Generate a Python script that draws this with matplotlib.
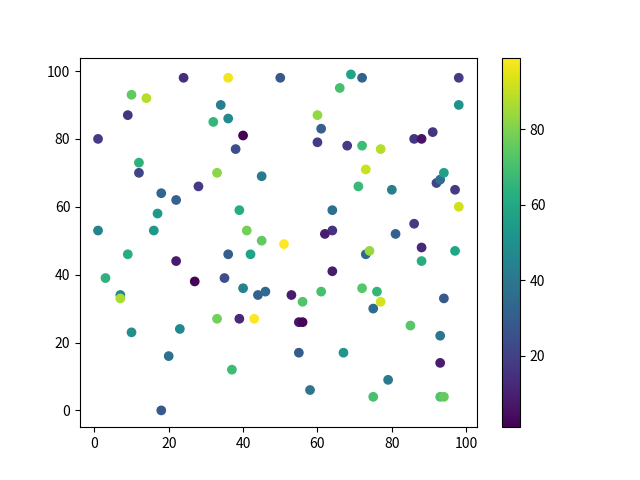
import matplotlib
matplotlib.use("Agg")
import matplotlib.pyplot as plt

plt.rcParams['font.family'] = ['Noto Sans CJK SC', 'DejaVu Sans']
plt.rcParams['axes.unicode_minus'] = False

x_vals = [24, 36, 50, 10, 14, 34, 9, 36, 32, 40, 1, 38, 12, 12, 33, 45, 28, 18, 22, 39,
          17, 1, 16, 41, 45,
          69, 72, 98, 66, 98, 60, 61, 91, 86, 88, 60, 68, 72, 77, 73, 92, 93, 94, 71, 80,
          97, 98, 64, 86, 64, 62, 81, 51,
          9, 22, 36, 42, 3, 27, 35, 40, 44, 46, 7, 7, 33, 39, 43, 10, 23, 20, 37, 18,
          88, 97, 73, 74, 88, 64, 53, 61, 56, 72, 76, 77, 75, 94, 55, 56, 85, 93, 55,
          67, 93, 79, 58, 75, 93, 94]
y_vals = [98, 98, 98, 93, 92, 90, 87, 86, 85, 81, 80, 77, 73, 70, 70, 69, 66, 64, 62, 59,
          58, 53, 53, 53, 50,
          99, 98, 98, 95, 90, 87, 83, 82, 80, 80, 79, 78, 78, 77, 71, 67, 68, 70, 66, 65,
          65, 60, 59, 55, 53, 52, 52, 49,
          46, 44, 46, 46, 39, 38, 39, 36, 34, 35, 34, 33, 27, 27, 27, 23, 24, 16, 12, 0,
          48, 47, 46, 47, 44, 41, 34, 35, 32, 36, 35, 32, 30, 33, 26, 26, 25, 22, 17,
          17, 14, 9, 6, 4, 4, 4]
c_vals = [14, 97, 28, 75, 88, 42, 16, 48, 66, 1, 18, 24, 64, 21, 82, 41, 18, 33, 31, 62,
          54, 45, 53, 78, 75,
          58, 32, 18, 70, 51, 83, 31, 16, 16, 6, 18, 18, 68, 88, 91, 21, 36, 57, 67, 43,
          18, 92, 36, 18, 15, 9, 32, 99,
          62, 8, 30, 58, 64, 2, 24, 45, 31, 34, 46, 86, 78, 12, 99, 50, 47, 37, 68, 28,
          12, 59, 33, 84, 62, 8, 9, 70, 72, 73, 66, 93, 35, 28, 7, 2, 73, 40, 29,
          52, 9, 41, 39, 70, 72, 76]

fig = plt.figure(figsize=(6.4, 4.8), dpi=100)
sc = plt.scatter(x_vals, y_vals, c=c_vals, cmap='viridis')
plt.colorbar(sc)
fig.savefig('out.png', dpi=100)
